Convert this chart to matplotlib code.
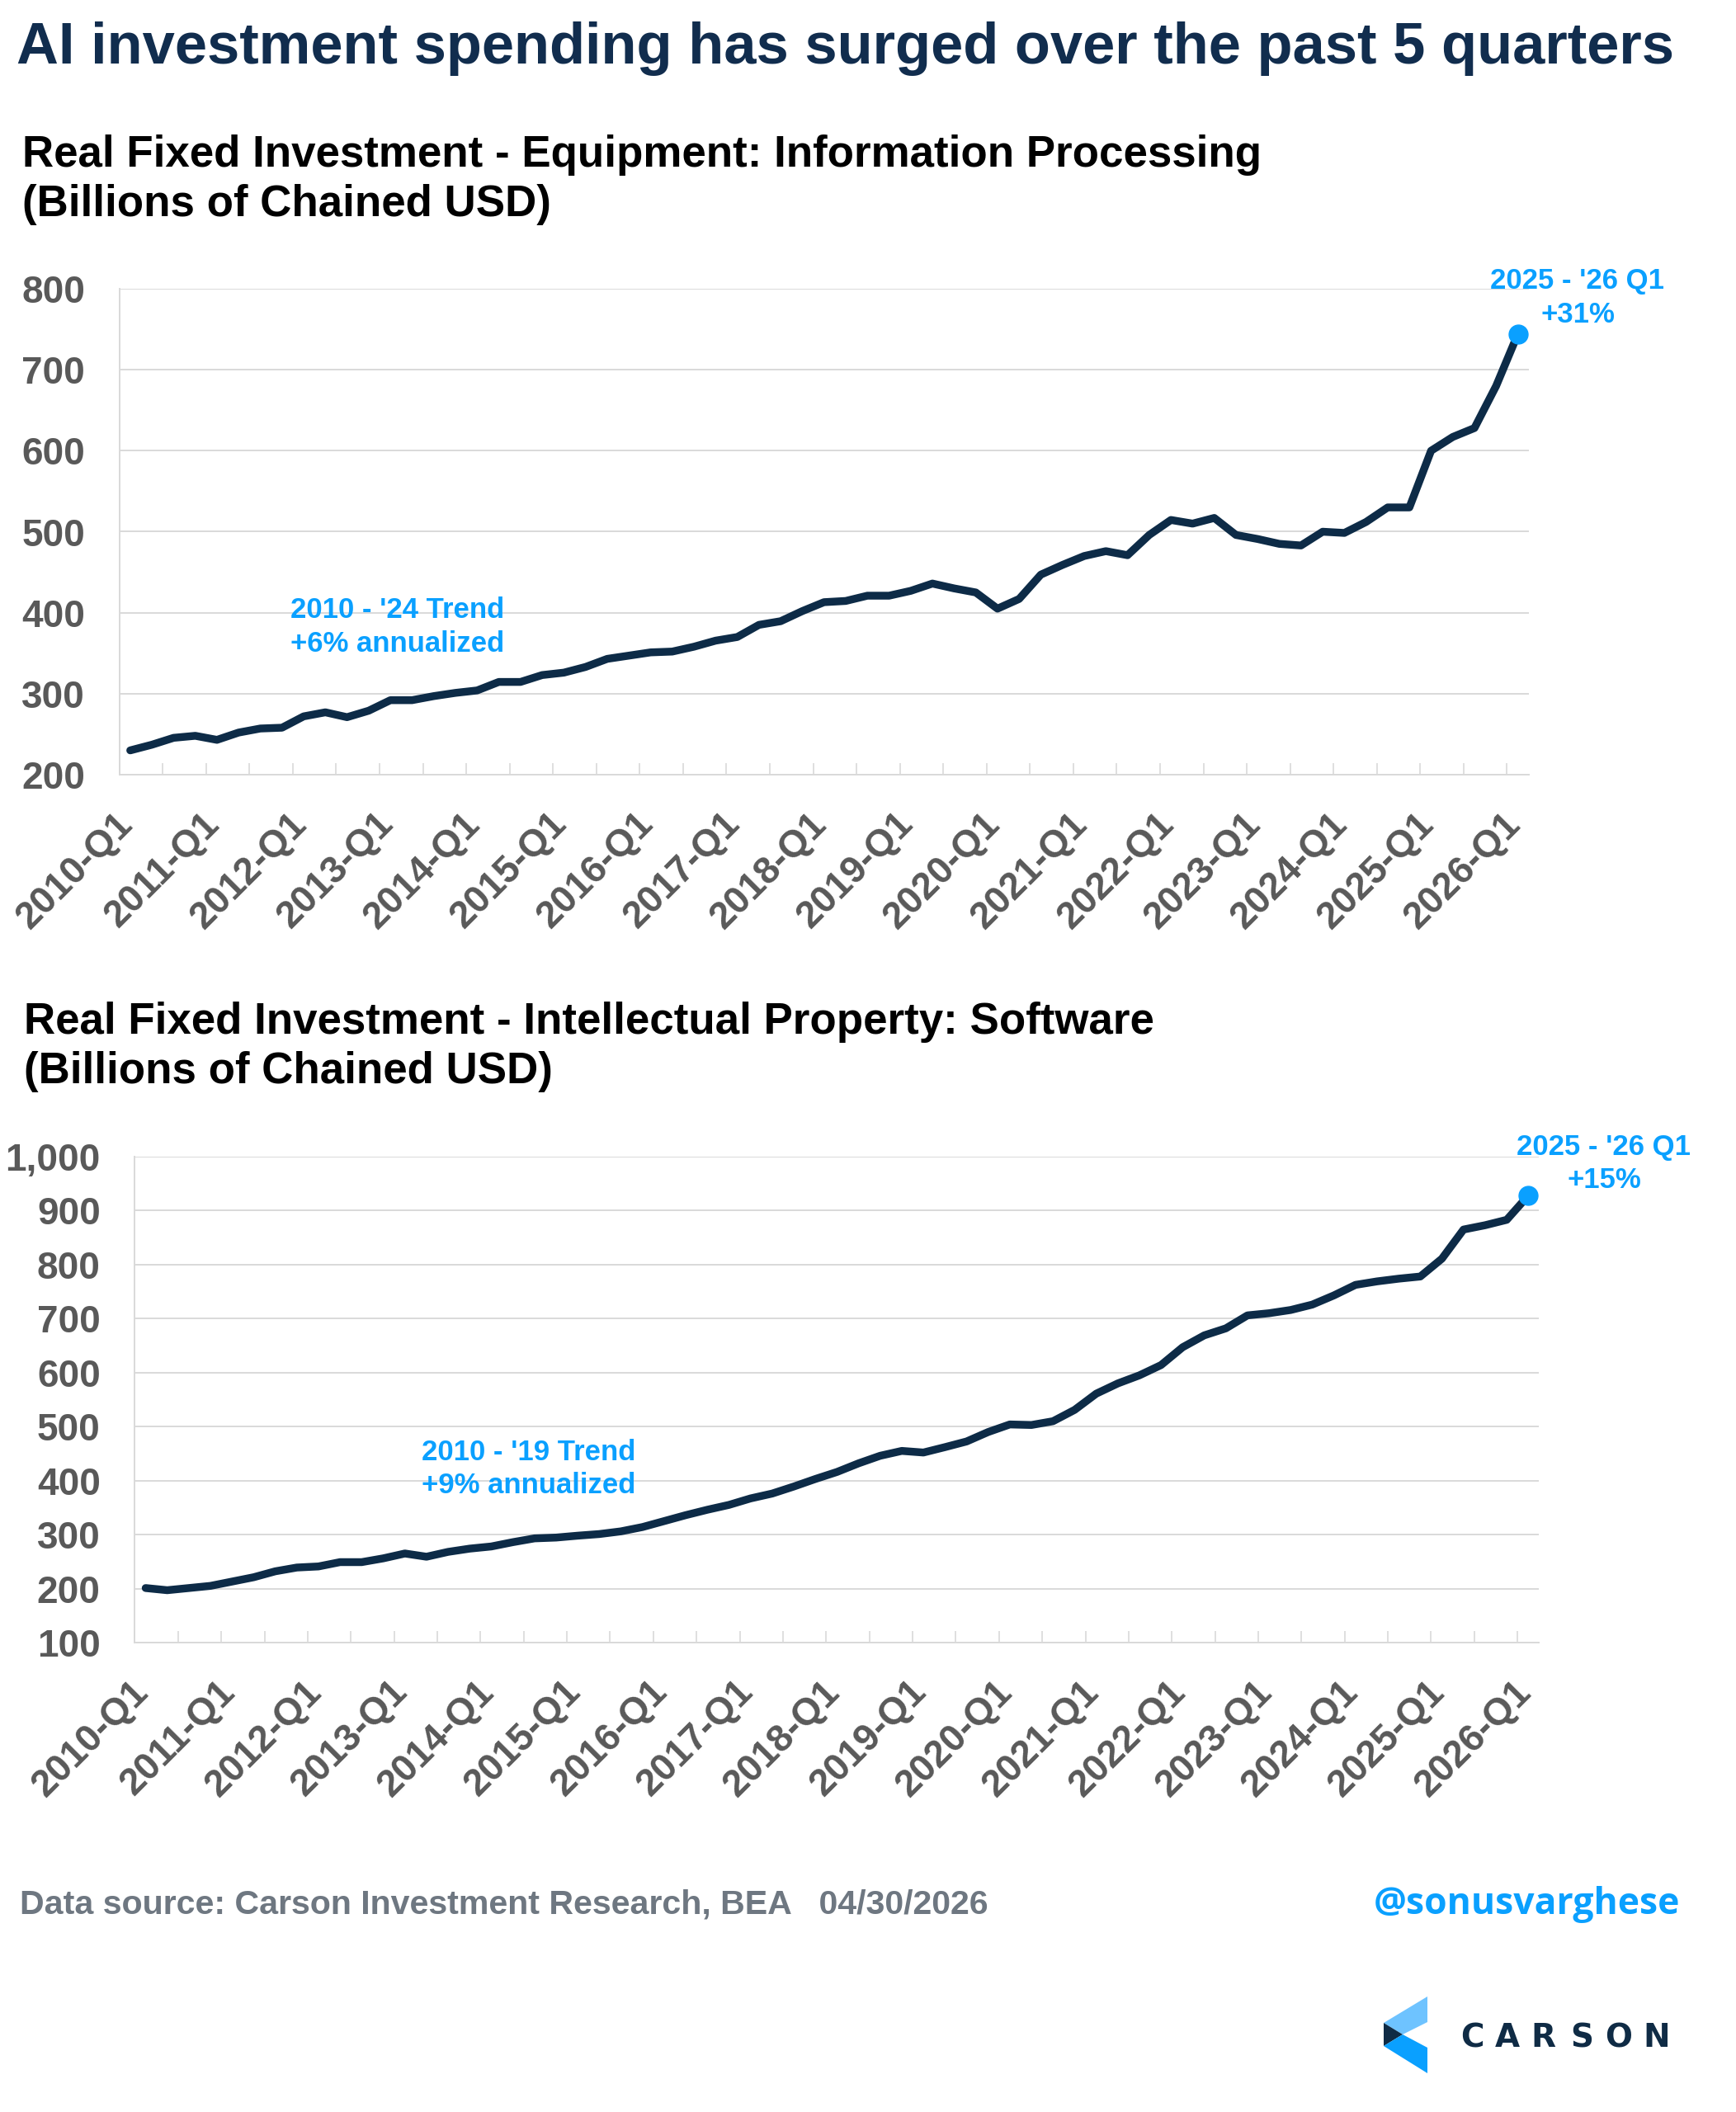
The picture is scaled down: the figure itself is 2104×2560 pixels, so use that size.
import matplotlib
matplotlib.use("Agg")
import matplotlib.pyplot as plt
from matplotlib.patches import Polygon
from matplotlib.ticker import FuncFormatter, FixedLocator
from matplotlib.transforms import ScaledTranslation

# Datos (miles de millones USD encadenados), 2010-Q1 .. 2026-Q1
equipo = [230, 237, 245.5, 248, 243, 252, 257, 258, 272, 277, 271, 279, 292, 292,
          297, 301, 304, 314.5, 314.5, 323, 326, 333, 343, 347, 351, 352, 358,
          365.5, 370, 385, 389.5, 402, 413, 414.5, 421, 421, 427, 436, 430, 425,
          405, 417, 447, 459, 470, 476, 471, 496, 514.5, 510, 517, 496, 491, 485,
          483, 500, 498.5, 512, 530, 530, 600, 617, 628, 680, 744]
software = [201, 197, 201, 205, 213, 221, 232, 239, 241, 249, 249, 256, 265, 259,
            268, 274, 278, 286, 293, 294.5, 298, 301, 306, 314, 325, 336, 346, 355,
            367, 376, 389, 403, 416, 432, 446, 455, 452, 462, 472.5, 490, 504, 503,
            510, 531, 561, 580, 595, 614, 647, 669, 682, 706, 710, 716, 726, 743,
            762.5, 769, 774, 778, 811, 865, 873, 883, 928]
etiquetas_x = ["2010-Q1", "2011-Q1", "2012-Q1", "2013-Q1", "2014-Q1", "2015-Q1",
               "2016-Q1", "2017-Q1", "2018-Q1", "2019-Q1", "2020-Q1", "2021-Q1",
               "2022-Q1", "2023-Q1", "2024-Q1", "2025-Q1", "2026-Q1"]

W, H = 2104, 2560
NAVY = "#0D2B47"
AZUL = "#0AA0FF"
GRIS_GRID = "#D9D9D9"
GRIS_TXT = "#595959"
FUENTE = "Liberation Sans"


def fx(x):
    return x / W


def fy(y):
    return 1 - y / H


def panel(fig, ax, valores, ymin, ymax, paso):
    x = list(range(len(valores)))
    ax.plot(x, valores, color=NAVY, lw=6.8, solid_capstyle="round",
            solid_joinstyle="round", zorder=3)
    ax.plot(x[-1], valores[-1], "o", color=AZUL, ms=16.5, zorder=4)
    ax.set_xlim(-0.5, len(valores) - 0.5)
    ax.set_ylim(ymin, ymax)
    ax.set_yticks(range(ymin, ymax + 1, paso))
    ax.yaxis.set_major_formatter(FuncFormatter(lambda v, p: f"{v:,.0f}"))
    ax.grid(axis="y", color=GRIS_GRID, lw=1.4)
    ax.set_axisbelow(True)
    for s in ("top", "right"):
        ax.spines[s].set_visible(False)
    for s in ("left", "bottom"):
        ax.spines[s].set_color(GRIS_GRID)
        ax.spines[s].set_linewidth(1.4)
    ax.set_xticks(range(0, len(valores), 4))
    ax.set_xticklabels(etiquetas_x)
    ax.xaxis.set_minor_locator(FixedLocator([i - 0.5 for i in range(0, len(valores), 2)]))
    ax.tick_params(axis="x", which="minor", direction="in", length=10,
                   width=1.2, color=GRIS_GRID)
    ax.tick_params(axis="x", which="major", length=0, pad=44.5)
    ax.tick_params(axis="y", length=0, pad=30)
    desplaza = ScaledTranslation(5 / 100, 0, fig.dpi_scale_trans)
    for lab in ax.get_xticklabels():
        lab.set(rotation=45, ha="right", va="baseline", rotation_mode="anchor",
                fontsize=33, fontweight="bold", color=GRIS_TXT, family=FUENTE)
        lab.set_transform(lab.get_transform() + desplaza)
    for lab in ax.get_yticklabels():
        lab.set(fontsize=33, fontweight="bold", color=GRIS_TXT, family=FUENTE)


fig = plt.figure(figsize=(W / 100, H / 100), dpi=100, facecolor="white")

ax1 = fig.add_axes([fx(144.7), fy(939), 1708 / W, 589 / H])
panel(fig, ax1, equipo, 200, 800, 100)

ax2 = fig.add_axes([fx(163.4), fy(1991), 1702 / W, 589 / H])
panel(fig, ax2, software, 100, 1000, 100)

# Titulos
fig.text(fx(20), fy(77), "AI investment spending has surged over the past 5 quarters",
         fontsize=50.8, fontweight="bold", color="#112D4E", family=FUENTE, va="baseline")
fig.text(fx(27), fy(202), "Real Fixed Investment - Equipment: Information Processing",
         fontsize=38.1, fontweight="bold", color="black", family=FUENTE, va="baseline")
fig.text(fx(27), fy(262), "(Billions of Chained USD)",
         fontsize=38.1, fontweight="bold", color="black", family=FUENTE, va="baseline")
fig.text(fx(29), fy(1253), "Real Fixed Investment - Intellectual Property: Software",
         fontsize=38.1, fontweight="bold", color="black", family=FUENTE, va="baseline")
fig.text(fx(29), fy(1313), "(Billions of Chained USD)",
         fontsize=38.1, fontweight="bold", color="black", family=FUENTE, va="baseline")

# Anotaciones
notas = [
    (352, 749, "2010 - '24 Trend", "left"),
    (352, 790, "+6% annualized", "left"),
    (1912, 350, "2025 - '26 Q1", "center"),
    (1912, 391, "+31%", "center"),
    (511, 1770, "2010 - '19 Trend", "left"),
    (511, 1810, "+9% annualized", "left"),
    (1944, 1400, "2025 - '26 Q1", "center"),
    (1944, 1440, "+15%", "center"),
]
for x, y, t, ha in notas:
    fig.text(fx(x), fy(y), t, fontsize=25, fontweight="bold", color=AZUL,
             family=FUENTE, ha=ha, va="baseline")

# Pie
fig.text(fx(24), fy(2320), "Data source: Carson Investment Research, BEA   04/30/2026",
         fontsize=29.6, fontweight="bold", color="#6E7781", family=FUENTE, va="baseline")
fig.text(fx(2036), fy(2320), "@sonusvarghese", fontsize=32, fontweight="bold",
         color=AZUL, family="Open Sans", ha="right", va="baseline")

# Logo Carson
logo = fig.add_axes([0, 0, 1, 1], zorder=-1)
logo.set_xlim(0, W)
logo.set_ylim(H, 0)
logo.axis("off")
logo.add_patch(Polygon([(1677, 2452), (1730, 2420), (1730, 2451), (1700, 2466)],
                       closed=True, color="#6EC3FF", lw=0))
logo.add_patch(Polygon([(1677, 2452), (1700, 2466), (1677, 2480)],
                       closed=True, color="#0F2B45", lw=0))
logo.add_patch(Polygon([(1677, 2480), (1700, 2466), (1730, 2482), (1730, 2513)],
                       closed=True, color=AZUL, lw=0))
for letra, cx in zip("CARSON", [1784, 1827, 1870, 1917, 1962, 2008]):
    logo.text(cx, 2466, letra, fontsize=28, fontweight="bold", color="#0F2B45",
              family="DejaVu Sans", ha="center", va="center_baseline")

fig.savefig("out.png", dpi=100, facecolor="white")
